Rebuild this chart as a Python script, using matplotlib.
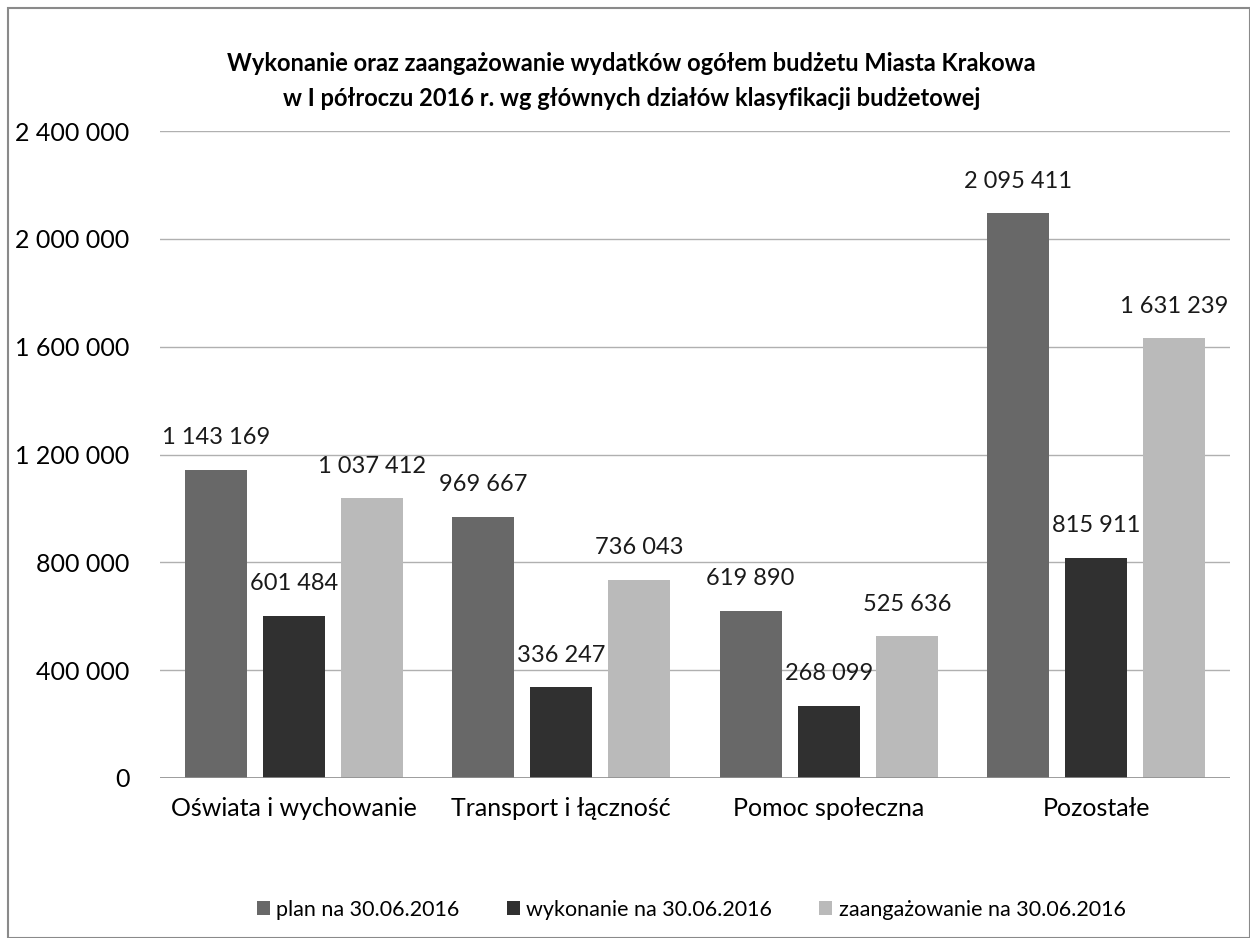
import matplotlib.pyplot as plt
import numpy as np
from matplotlib.patches import Rectangle

plt.rcParams['font.family'] = ['Lato', 'DejaVu Sans']

categories = ["Oświata i wychowanie", "Transport i łączność", "Pomoc społeczna", "Pozostałe"]
plan = [1143169, 969667, 619890, 2095411]
wykonanie = [601484, 336247, 268099, 815911]
zaangazowanie = [1037412, 736043, 525636, 1631239]
series_names = ["plan na 30.06.2016", "wykonanie na 30.06.2016", "zaangażowanie na 30.06.2016"]
colors = ["#686868", "#303030", "#bababa"]
yticks = [0, 400000, 800000, 1200000, 1600000, 2000000, 2400000]


def fmt(v):
    return f"{v:,}".replace(",", " ")


fig = plt.figure(figsize=(12.5, 9.38), dpi=100)
ax = fig.add_axes([0.128, 0.1706, 0.856, 0.6897])

# ramka wykresu
fig.patches.append(Rectangle((0.006, 0.0), 0.994, 0.991, transform=fig.transFigure,
                             fill=False, edgecolor="#8a8a8a", linewidth=1.5))

x = np.arange(len(categories))
width = 0.232
offsets = [-0.292, 0, 0.292]
for vals, off, col, name in zip([plan, wykonanie, zaangazowanie], offsets, colors, series_names):
    bars = ax.bar(x + off, vals, width, color=col, label=name, zorder=3)
    for b, v in zip(bars, vals):
        ax.text(b.get_x() + b.get_width() / 2, v + 80000, fmt(v), ha="center", va="bottom",
                fontsize=17, color="#1a1a1a")

ax.set_xlim(-0.5, 3.5)
ax.set_ylim(0, 2400000)
ax.set_yticks(yticks)
ax.set_yticklabels([fmt(t) for t in yticks], fontsize=18)
ax.set_xticks(x)
ax.set_xticklabels(categories, fontsize=18)
ax.tick_params(axis="y", length=0, pad=22)
ax.tick_params(axis="x", length=0, pad=14)
ax.yaxis.grid(True, color="#b0b0b0", linewidth=1, zorder=0)
for s in ax.spines.values():
    s.set_visible(False)
ax.axhline(0, color="#909090", linewidth=1.2, zorder=4)

fig.text(0.505, 0.932, "Wykonanie oraz zaangażowanie wydatków ogółem budżetu Miasta Krakowa",
         ha="center", va="center", fontsize=17, fontweight="bold")
fig.text(0.505, 0.895, "w I półroczu 2016 r. wg głównych działów klasyfikacji budżetowej",
         ha="center", va="center", fontsize=17, fontweight="bold")

fig.legend(loc="center", bbox_to_anchor=(0.553, 0.03), ncol=3, frameon=False, fontsize=15.5,
           handlelength=0.6, handleheight=0.6, handletextpad=0.3, columnspacing=2.2)

fig.savefig("out.png", dpi=100)
